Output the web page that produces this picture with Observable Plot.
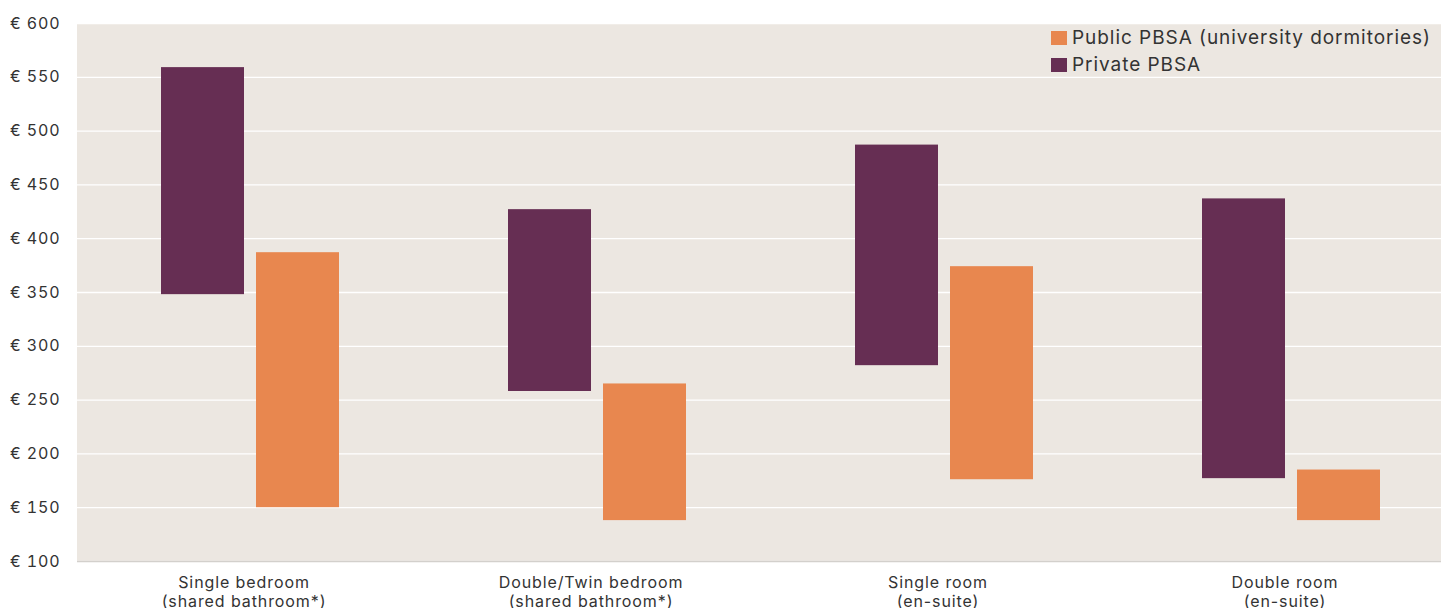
<!DOCTYPE html>
<html><head><meta charset="utf-8">
<script src="https://cdn.jsdelivr.net/npm/d3@7"></script>
<script src="https://cdn.jsdelivr.net/npm/@observablehq/plot@0.6"></script>
<style>
html,body{margin:0;padding:0;overflow:hidden;background:#fff;}
#wrap{position:relative;width:1441px;height:608px;overflow:hidden;}
#wrap svg{display:block;max-width:none;}
.legend{position:absolute;left:1051px;top:24px;font-family:Inter,"DejaVu Sans",sans-serif;font-size:19px;letter-spacing:0.95px;color:#333;line-height:27px;}
.legend .row{display:flex;align-items:center;white-space:nowrap;}
.legend .sw{width:16px;height:14px;margin-right:5px;display:inline-block;}
</style></head><body><div id="wrap"></div>
<script>
const categories = ["Single bedroom\n(shared bathroom*)", "Double/Twin bedroom\n(shared bathroom*)", "Single room\n(en-suite)", "Double room\n(en-suite)"];
const series = ["Private PBSA", "Public PBSA (university dormitories)"];
const privateLow = [348, 258, 282, 177];
const privateHigh = [559, 427, 487, 437];
const publicLow = [150, 138, 176, 138];
const publicHigh = [387, 265, 374, 185];
const yTicks = [100, 150, 200, 250, 300, 350, 400, 450, 500, 550, 600];
const colors = ["#662e53", "#e8874f"];
const legendOrder = [1, 0];

const data = categories.flatMap((c, i) => [
  {cat: c, series: series[0], low: privateLow[i], high: privateHigh[i]},
  {cat: c, series: series[1], low: publicLow[i], high: publicHigh[i]}
]);

const font = 'Inter, "DejaVu Sans", sans-serif';
const chart = Plot.plot({
  width: 1465, height: 608,
  marginLeft: 77, marginRight: 0, marginTop: 23, marginBottom: 47,
  style: {fontFamily: font, fontSize: "16px", letterSpacing: "0.9px", color: "#333", background: "#fff", maxWidth: "none"},
  fx: {domain: categories, padding: 0, label: null},
  x: {domain: series, paddingInner: 0.125, paddingOuter: 0.87, axis: null},
  y: {domain: [100, 600], label: null},
  color: {domain: series, range: colors},
  marks: [
    Plot.frame({fill: "#ece7e1", stroke: null, insetLeft: -1, insetRight: -1, shapeRendering: "crispEdges"}),
    Plot.gridY(yTicks, {stroke: "#fff", strokeOpacity: 1, strokeWidth: 1.3}),
    Plot.ruleY([100], {stroke: "#d3d0cc", strokeWidth: 1.3}),
    Plot.barY(data, {fx: "cat", x: "series", y1: "low", y2: "high", fill: "series"}),
    Plot.axisY(yTicks, {tickSize: 0, tickPadding: 17, tickFormat: d => "€ " + d, label: null, fill: "#333"}),
    Plot.axisFx({anchor: "bottom", tickSize: 0, tickPadding: 13, label: null, dx: -7, lineHeight: 1.2, fill: "#333"})
  ]
});
const wrap = document.getElementById("wrap");
wrap.appendChild(chart);
const legend = document.createElement("div");
legend.className = "legend";
legendOrder.forEach(i => {
  const row = document.createElement("div");
  row.className = "row";
  const sw = document.createElement("span");
  sw.className = "sw";
  sw.style.background = colors[i];
  row.appendChild(sw);
  row.appendChild(document.createTextNode(series[i]));
  legend.appendChild(row);
});
wrap.appendChild(legend);
</script>
</body></html>
